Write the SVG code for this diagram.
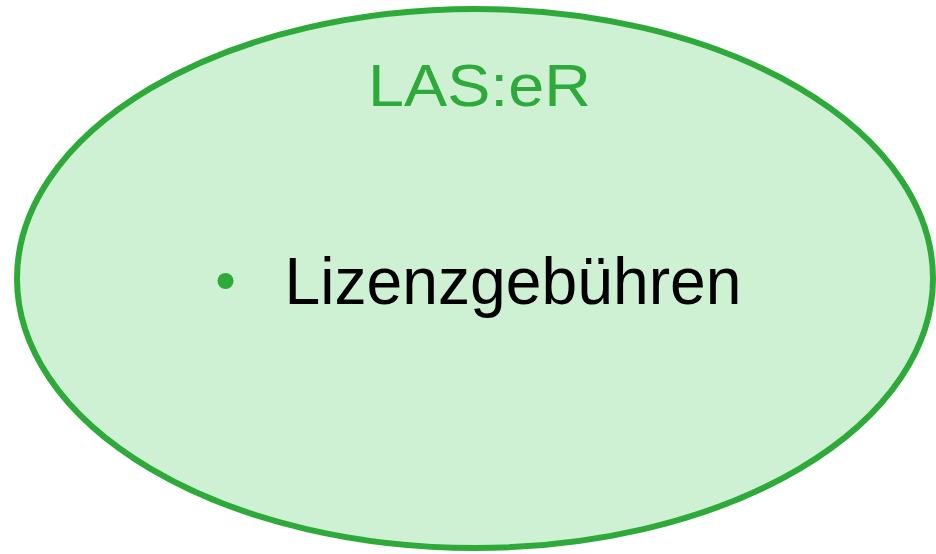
<svg xmlns="http://www.w3.org/2000/svg" width="936" height="554" viewBox="0 0 936 554">
<style>
.shape{fill:#CFF1D3;stroke:#2EAA3A;stroke-width:6}
.title{font-family:"Liberation Sans",Arial,sans-serif;font-size:60px;fill:#2EAA3A}
.item{font-family:"Liberation Sans",Arial,sans-serif;font-size:66px;fill:#000}
</style>
<rect width="936" height="554" fill="#fff"/>
<g id="laser">
<ellipse class="shape" cx="475" cy="278.5" rx="458" ry="269.5"/>
<text class="title" x="368" y="106" textLength="223" lengthAdjust="spacingAndGlyphs">LAS:eR</text>
<circle cx="225.5" cy="281" r="8" fill="#2EAA3A"/>
<text class="item" x="284.5" y="304" textLength="457" lengthAdjust="spacingAndGlyphs">Lizenzgebühren</text>
</g>
<g id="connectors"/>
</svg>
